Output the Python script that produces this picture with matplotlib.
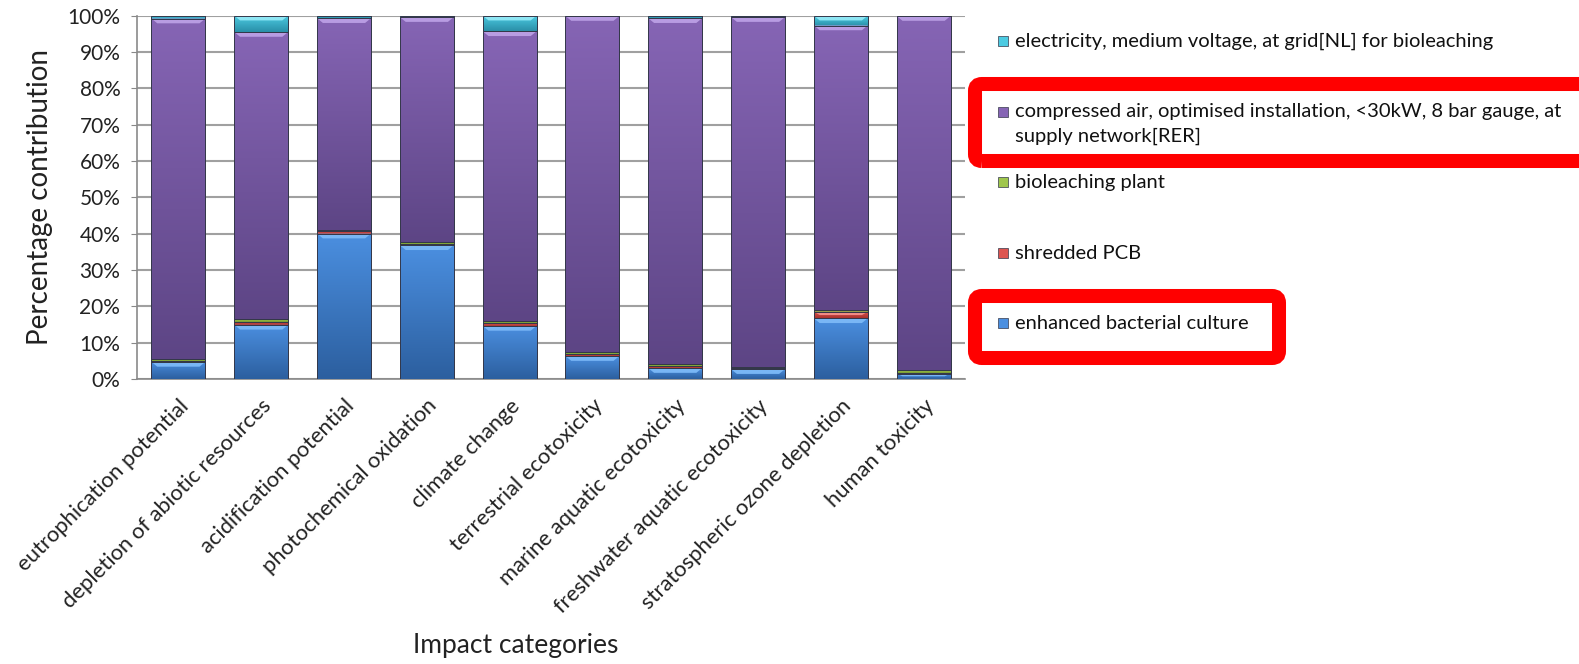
import numpy as np
import matplotlib
matplotlib.use('Agg')
import matplotlib.pyplot as plt
from matplotlib.colors import LinearSegmentedColormap
from matplotlib.patches import FancyBboxPatch, Rectangle

plt.rcParams['font.family'] = ['Lato', 'DejaVu Sans']

categories = ['eutrophication potential', 'depletion of abiotic resources',
              'acidification potential', 'photochemical oxidation',
              'climate change', 'terrestrial ecotoxicity',
              'marine aquatic ecotoxicity', 'freshwater aquatic ecotoxicity',
              'stratospheric ozone depletion', 'human toxicity']

# percentage contribution of each process, stacked bottom to top
bacterial_culture = [4.7, 14.9, 40.0, 36.8, 14.6, 6.3, 3.0, 2.7, 16.7, 1.5]
shredded_pcb = [0.3, 0.9, 0.7, 0.4, 0.7, 0.5, 0.5, 0.2, 1.8, 0.2]
bioleaching_plant = [0.4, 0.6, 0.2, 0.4, 0.6, 0.5, 0.5, 0.5, 0.6, 0.7]
compressed_air = [93.8, 79.1, 58.4, 62.0, 79.8, 92.6, 95.3, 96.2, 78.2, 97.5]
electricity = [0.8, 4.5, 0.7, 0.4, 4.3, 0.1, 0.7, 0.4, 2.7, 0.1]

series_names = ['enhanced bacterial culture', 'shredded PCB', 'bioleaching plant',
                'compressed air, optimised installation, <30kW, 8 bar gauge, at\nsupply network[RER]',
                'electricity, medium voltage, at grid[NL] for bioleaching']
series_values = [bacterial_culture, shredded_pcb, bioleaching_plant, compressed_air, electricity]

# (top shade, bottom shade, bevel highlight)
series_colors = [('#4b8fe0', '#2c5f9f', '#79b6f5'),
                 ('#dd5550', '#a8322e', '#f08a85'),
                 ('#9fc64c', '#789a33', '#c4e07c'),
                 ('#8665b5', '#5d4585', '#b89ce2'),
                 ('#4ccbe2', '#2a8fa8', '#8ee6f4')]

W, H = 1579, 664
fig = plt.figure(figsize=(W / 100, H / 100), dpi=100)
ax = fig.add_axes([137 / W, 1 - 379 / H, (965 - 137) / W, (379 - 15.7) / H])

x = np.arange(len(categories))
width = 0.65
bottom = np.zeros(len(categories))
grad = np.linspace(0, 1, 128).reshape(-1, 1)

for vals, (ctop, cbot, chi) in zip(series_values, series_colors):
    vals = np.array(vals)
    bars = ax.bar(x, vals, width, bottom=bottom, color=ctop, edgecolor='#34384a',
                  linewidth=0.7, zorder=3)
    cmap = LinearSegmentedColormap.from_list('seg', [cbot, ctop])
    for b in bars:
        x0, y0 = b.get_x(), b.get_y()
        bw, bh = b.get_width(), b.get_height()
        im = ax.imshow(grad, extent=[x0, x0 + bw, y0, y0 + bh], origin='lower',
                       cmap=cmap, aspect='auto', zorder=3.1, interpolation='bilinear')
        im.set_clip_path(b)
        # bevel highlight along the top of each segment
        if bh > 1.0:
            hh = min(1.3, bh * 0.5)
            ins = 0.07
            ax.fill([x0, x0 + bw, x0 + bw - ins, x0 + ins],
                    [y0 + bh, y0 + bh, y0 + bh - hh, y0 + bh - hh],
                    color=chi, lw=0, zorder=3.2)
        ax.add_patch(Rectangle((x0, y0), bw, bh, fill=False, edgecolor='#34384a',
                               linewidth=0.7, zorder=3.3))
    bottom += vals

ax.set_xlim(-0.5, len(categories) - 0.5)
ax.set_ylim(0, 100)
ax.set_yticks(np.arange(0, 101, 10))
ax.set_yticklabels([f'{v}%' for v in range(0, 101, 10)], fontsize=15, color='#222222')
ax.yaxis.grid(True, color='#a0a0a0', linewidth=1.5, zorder=0)
ax.set_axisbelow(True)
ax.tick_params(axis='y', length=4, color='#888888', pad=8)
ax.set_xticks(x)
ax.set_xticklabels(categories, rotation=45, ha='right', rotation_mode='anchor',
                   fontsize=15.8, color='#222222')
ax.tick_params(axis='x', length=0, pad=12)
for s in ['top', 'right']:
    ax.spines[s].set_visible(False)
for s in ['left', 'bottom']:
    ax.spines[s].set_color('#8a8a8a')
    ax.spines[s].set_linewidth(1.2)

ax.set_ylabel('Percentage contribution', fontsize=20, color='#222222', labelpad=10)
fig.text(516 / W, 1 - 645 / H, 'Impact categories', fontsize=19, color='#222222',
         ha='center', va='center')

# legend drawn by hand, top entry first; wrapped labels continue one line lower
rows = [41 + 70.5 * k for k in range(len(series_names))]
for row, name, (ctop, cbot, chi) in zip(rows, series_names[::-1], series_colors[::-1]):
    fig.patches.append(Rectangle(((998) / W, 1 - (row + 5) / H), 10 / W, 10 / H,
                                 transform=fig.transFigure, facecolor=ctop,
                                 edgecolor='#34384a', linewidth=0.5))
    for k, line in enumerate(name.split('\n')):
        fig.text(1015 / W, 1 - (row + 6 + 24 * k) / H, line, fontsize=14.5,
                 color='#111111', va='baseline', ha='left')

# red highlight frames around two legend entries
for (l, t, r, b) in [(975, 84, 1600, 161), (975, 296, 1279, 358)]:
    box = FancyBboxPatch((l / 100, (H - b) / 100), (r - l) / 100, (b - t) / 100,
                         boxstyle='round,pad=0,rounding_size=0.07',
                         transform=fig.dpi_scale_trans, facecolor='none',
                         edgecolor='#ff0000', linewidth=10.1)
    fig.patches.append(box)

fig.savefig('out.png', dpi=100)
